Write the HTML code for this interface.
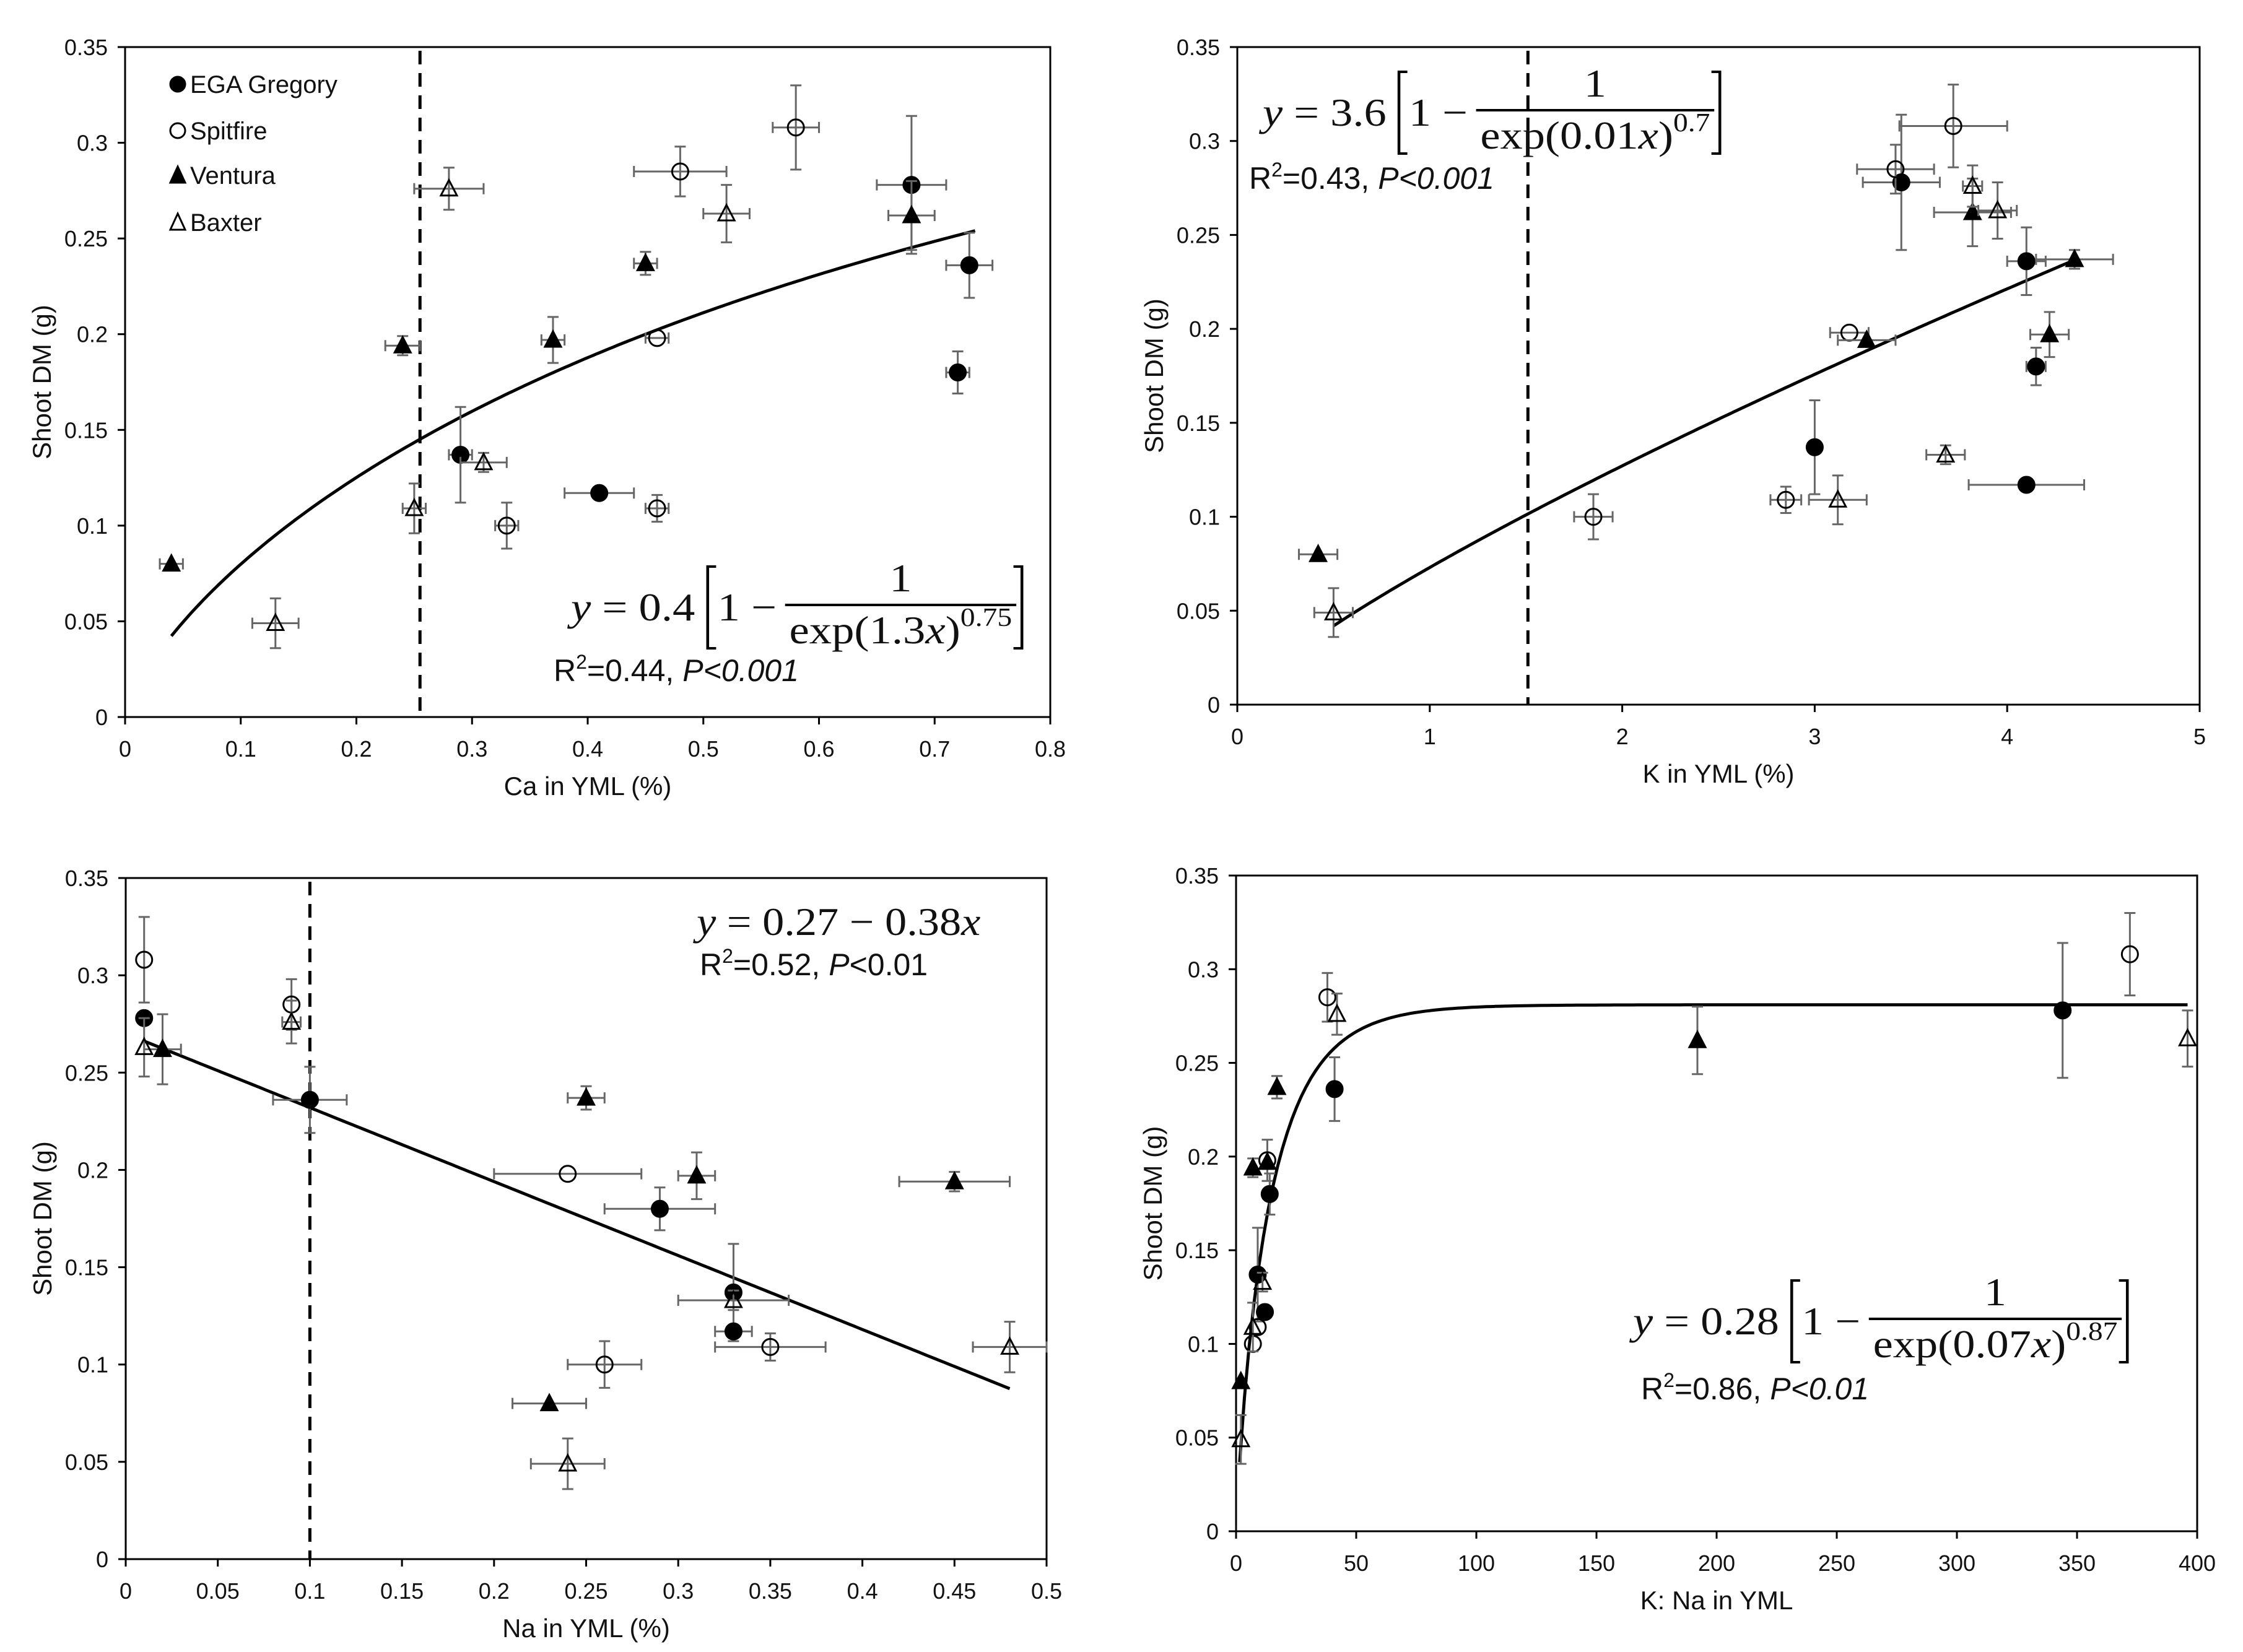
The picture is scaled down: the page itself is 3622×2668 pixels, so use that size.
<!DOCTYPE html>
<html><head><meta charset="utf-8"><style>
html,body{margin:0;padding:0;background:#fff;}
svg{display:block;}
text{font-family:"Liberation Sans",sans-serif;fill:#111;}
.eq{font-family:"Liberation Serif",serif;}
</style></head><body>
<svg id="fig" width="3622" height="2668" viewBox="0 0 3622 2668" xmlns="http://www.w3.org/2000/svg"></svg>
<script>
// ---- data: [x, y, xerr, yerr] ----
const caGregory=[[0.29,0.137,0.01,0.025],[0.41,0.117,0.03,0],[0.68,0.278,0.03,0.036],[0.73,0.236,0.02,0.017],[0.72,0.180,0.01,0.011]];
const caSpitfire=[[0.58,0.308,0.02,0.022],[0.48,0.285,0.04,0.013],[0.46,0.198,0.01,0],[0.46,0.109,0.01,0.007],[0.33,0.100,0.01,0.012]];
const caVentura=[[0.04,0.080,0.01,0],[0.24,0.194,0.015,0.005],[0.37,0.197,0.01,0.012],[0.45,0.237,0.01,0.006],[0.68,0.262,0.02,0.018]];
const caBaxter=[[0.13,0.049,0.02,0.013],[0.28,0.276,0.03,0.011],[0.52,0.263,0.02,0.015],[0.31,0.133,0.02,0.005],[0.25,0.109,0.01,0.013]];
const kGregory=[[3.45,0.278,0.2,0.036],[4.1,0.236,0.1,0.018],[4.15,0.180,0.05,0.01],[3.0,0.137,0,0.025],[4.1,0.117,0.3,0]];
const kSpitfire=[[3.72,0.308,0.28,0.022],[3.42,0.285,0.2,0.013],[3.18,0.198,0.1,0],[2.85,0.109,0.08,0.007],[1.85,0.100,0.1,0.012]];
const kVentura=[[0.42,0.080,0.1,0],[3.27,0.194,0.15,0],[4.22,0.197,0.1,0.012],[4.35,0.237,0.2,0.005],[3.82,0.262,0.2,0.018]];
const kBaxter=[[0.5,0.049,0.1,0.013],[3.82,0.276,0.05,0.011],[3.95,0.263,0.1,0.015],[3.68,0.133,0.1,0.005],[3.12,0.109,0.15,0.013]];
const naGregory=[[0.01,0.278,0,0],[0.10,0.236,0.02,0.017],[0.29,0.180,0.03,0.011],[0.33,0.137,0,0.025],[0.33,0.117,0.01,0]];
const naSpitfire=[[0.01,0.308,0,0.022],[0.09,0.285,0,0.013],[0.24,0.198,0.04,0],[0.26,0.100,0.02,0.012],[0.35,0.109,0.03,0.007]];
const naVentura=[[0.23,0.080,0.02,0],[0.45,0.194,0.03,0.005],[0.31,0.197,0.01,0.012],[0.25,0.237,0.01,0.006],[0.02,0.262,0.01,0.018]];
const naBaxter=[[0.24,0.049,0.02,0.013],[0.09,0.276,0.005,0.011],[0.01,0.263,0,0.015],[0.33,0.133,0.03,0.005],[0.48,0.109,0.02,0.013]];
const rGregory=[[344,0.278,0,0.036],[41,0.236,0,0.017],[14,0.180,0,0.011],[9,0.137,0,0.025],[12,0.117,0,0]];
const rSpitfire=[[372,0.308,0,0.022],[38,0.285,0,0.013],[13,0.198,0,0.011],[9,0.109,0,0],[7,0.100,0,0]];
const rVentura=[[2,0.080,0,0],[7,0.194,0,0.005],[192,0.262,0,0.018],[17,0.237,0,0.006],[13,0.197,0,0]];
const rBaxter=[[2,0.049,0,0.013],[42,0.276,0,0.011],[396,0.263,0,0.015],[11,0.133,0,0.005],[7,0.109,0,0.013]];
const yTicks=[0,0.05,0.1,0.15,0.2,0.25,0.3,0.35];
const yTickLabels=["0","0.05","0.1","0.15","0.2","0.25","0.3","0.35"];
const caTicks=[0,0.1,0.2,0.3,0.4,0.5,0.6,0.7,0.8];
const caTickLabels=["0","0.1","0.2","0.3","0.4","0.5","0.6","0.7","0.8"];
const kTicks=[0,1,2,3,4,5];
const kTickLabels=["0","1","2","3","4","5"];
const naTicks=[0,0.05,0.1,0.15,0.2,0.25,0.3,0.35,0.4,0.45,0.5];
const naTickLabels=["0","0.05","0.1","0.15","0.2","0.25","0.3","0.35","0.4","0.45","0.5"];
const rTicks=[0,50,100,150,200,250,300,350,400];
const rTickLabels=["0","50","100","150","200","250","300","350","400"];
const caThreshold=[0.255];
const kThreshold=[1.51];
const naThreshold=[0.1];

const NS="http://www.w3.org/2000/svg";
const svg=document.getElementById('fig');
function mk(tag,attrs,parent,txt){const e=document.createElementNS(NS,tag);for(const k in attrs)e.setAttribute(k,attrs[k]);if(txt!==undefined)e.textContent=txt;(parent||svg).appendChild(e);return e;}

function panel(cfg){
  const g=mk('g',{});
  
  
  const sx=v=>cfg.x0+(v-cfg.xmin)/(cfg.xmax-cfg.xmin)*(cfg.x1-cfg.x0);
  const sy=v=>cfg.yB-(v/0.35)*(cfg.yB-cfg.yT);
  const fr=mk('rect',{x:cfg.x0,y:cfg.yT,width:cfg.x1-cfg.x0,height:cfg.yB-cfg.yT,fill:'none',stroke:'#000','stroke-width':3},g);
  
  
  yTicks.forEach((t,i)=>{
    mk('line',{x1:cfg.x0-12,x2:cfg.x0,y1:sy(t),y2:sy(t),stroke:'#000','stroke-width':3},g);
    const tl=mk('text',{x:cfg.x0-28,y:sy(t)+13,'text-anchor':'end','font-size':36},g,yTickLabels[i]);
    
    
  });
  cfg.xt.forEach((t,i)=>{
    mk('line',{x1:sx(t),x2:sx(t),y1:cfg.yB,y2:cfg.yB+12,stroke:'#000','stroke-width':3},g);
    const tl=mk('text',{x:sx(t),y:cfg.yB+64,'text-anchor':'middle','font-size':36},g,cfg.xl[i]);
    
    
  });
  const yt=mk('text',{x:0,y:0,'text-anchor':'middle','font-size':42,transform:`translate(${cfg.x0-120},${(cfg.yB+cfg.yT)/2}) rotate(-90)`},g,'Shoot DM (g)');
  
  
  const xt=mk('text',{x:(cfg.x0+cfg.x1)/2,y:cfg.yB+126,'text-anchor':'middle','font-size':42},g,cfg.xtitle);
  
  
  if(cfg.thr){
    const dl=mk('line',{x1:sx(cfg.thr[0]),x2:sx(cfg.thr[0]),y1:cfg.yT+6,y2:cfg.yB,stroke:'#000','stroke-width':5,'stroke-dasharray':'22 14'},g);
    
    
  }
  let d='';const n=200;
  for(let i=0;i<=n;i++){const x=cfg.fx0+(cfg.fx1-cfg.fx0)*i/n;d+=(i?'L':'M')+sx(x).toFixed(1)+','+sy(cfg.f(x)).toFixed(1);}
  const fc=mk('path',{d:d,fill:'none',stroke:'#000','stroke-width':5},g);
  
  
  const series=[[cfg.s[0],'circle',true,'egagregory'],[cfg.s[1],'circle',false,'spitfire'],[cfg.s[2],'tri',true,'ventura'],[cfg.s[3],'tri',false,'baxter']];
  series.forEach(([arr,shape,filled,nm])=>{
    arr.forEach(p=>{
      const px=sx(p[0]),py=sy(p[1]);
      const eg=mk('g',{stroke:'#666','stroke-width':3},g);
      
      
      if(p[2]>0){const a=sx(p[0]-p[2]),b=sx(p[0]+p[2]);mk('line',{x1:a,x2:b,y1:py,y2:py},eg);mk('line',{x1:a,x2:a,y1:py-9,y2:py+9},eg);mk('line',{x1:b,x2:b,y1:py-9,y2:py+9},eg);}
      if(p[3]>0){const a=sy(p[1]-p[3]),b=sy(p[1]+p[3]);mk('line',{x1:px,x2:px,y1:a,y2:b},eg);mk('line',{x1:px-9,x2:px+9,y1:a,y2:a},eg);mk('line',{x1:px-9,x2:px+9,y1:b,y2:b},eg);}
      let m;
      if(shape==='circle')m=mk('circle',{cx:px,cy:py,r:13,fill:filled?'#000':'none',stroke:'#000','stroke-width':3},g);
      else m=mk('polygon',{points:`${px},${py-14} ${px-13},${py+11} ${px+13},${py+11}`,fill:filled?'#000':'none',stroke:'#000','stroke-width':3},g);
      
      
    });
  });
}

panel({name:'panel-ca',x0:202,x1:1696,yB:1158,yT:76,xmin:0,xmax:0.8,xt:caTicks,xl:caTickLabels,xtitle:'Ca in YML (%)',thr:caThreshold,
  fx0:0.04,fx1:0.735,f:x=>0.41*(1-Math.exp(-Math.pow(1.3*x,0.75))),s:[caGregory,caSpitfire,caVentura,caBaxter]});
panel({name:'panel-k',x0:1998,x1:3552,yB:1138,yT:76,xmin:0,xmax:5,xt:kTicks,xl:kTickLabels,xtitle:'K in YML (%)',thr:kThreshold,
  fx0:0.5,fx1:4.35,f:x=>0.073*Math.pow(x,0.8),s:[kGregory,kSpitfire,kVentura,kBaxter]});
panel({name:'panel-na',x0:203,x1:1690,yB:2518,yT:1418,xmin:0,xmax:0.5,xt:naTicks,xl:naTickLabels,xtitle:'Na in YML (%)',thr:naThreshold,
  fx0:0.01,fx1:0.48,f:x=>0.27-0.38*x,s:[naGregory,naSpitfire,naVentura,naBaxter]});
panel({name:'panel-kna',x0:1996,x1:3548,yB:2473,yT:1414,xmin:0,xmax:400,xt:rTicks,xl:rTickLabels,xtitle:'K: Na in YML',thr:null,
  fx0:1.5,fx1:396,f:x=>0.281*(1-Math.exp(-Math.pow(0.07*x,0.87))),s:[rGregory,rSpitfire,rVentura,rBaxter]});

const legend=[['EGA Gregory','circle',true,150],['Spitfire','circle',false,225],['Ventura','tri',true,297],['Baxter','tri',false,373]];
legend.forEach(([lab,sh,f,y])=>{
  const g=mk('g',{});
  
  
  if(sh==='circle')mk('circle',{cx:287,cy:y-14,r:12,fill:f?'#000':'none',stroke:'#000','stroke-width':3},g);
  else mk('polygon',{points:`287,${y-28} 275,${y-2} 299,${y-2}`,fill:f?'#000':'none',stroke:'#000','stroke-width':3},g);
  mk('text',{x:307,y:y,'font-size':40},g,lab);
});

function bracket(g,x,top,bot,open){const s=open?12:-12;mk('path',{d:`M${x+s},${top} L${x},${top} L${x},${bot} L${x+s},${bot}`,fill:'none',stroke:'#000','stroke-width':4},g);}
function fitWidth(g,sx,target){const bb=g.getBBox();const k=target/bb.width;g.setAttribute('transform',`translate(${sx},0) scale(${k},1) translate(${-sx},0)`);}
function fracEq(name,sx,ly,coef,den,sup,target){
  const g=mk('g',{});
  
  
  const t1=mk('text',{x:sx,y:ly+25,'font-size':64,class:'eq'},g);
  mk('tspan',{'font-style':'italic'},t1,'y');
  mk('tspan',{},t1,' = '+coef);
  let x=sx+t1.getComputedTextLength()+18;
  bracket(g,x,ly-62,ly+70,true);
  x+=14;
  const t2=mk('text',{x:x,y:ly+25,'font-size':64,class:'eq'},g,'1 − ');
  x+=t2.getComputedTextLength()+12;
  const t3=mk('text',{x:x+6,y:ly+62,'font-size':64,class:'eq'},g);
  mk('tspan',{},t3,den);
  mk('tspan',{'font-style':'italic'},t3,'x');
  mk('tspan',{},t3,')');
  mk('tspan',{'font-size':42,dy:-28},t3,sup);
  const w=t3.getComputedTextLength()+12;
  mk('line',{x1:x,x2:x+w,y1:ly,y2:ly,stroke:'#000','stroke-width':4},g);
  mk('text',{x:x+w/2,y:ly-22,'font-size':64,'text-anchor':'middle',class:'eq'},g,'1');
  x+=w+8;
  bracket(g,x,ly-62,ly+70,false);
  fitWidth(g,sx,target);
}
function r2(name,x,y,a,p){
  const t=mk('text',{x:x,y:y,'font-size':50});
  
  
  mk('tspan',{},t,'R');
  mk('tspan',{'font-size':32,dy:-20},t,'2');
  mk('tspan',{dy:20},t,'='+a+', ');
  mk('tspan',{'font-style':p[1]?'italic':'normal'},t,'P');
  mk('tspan',{'font-style':p[2]?'italic':'normal'},t,'<'+p[0]);
}
fracEq('equation-ca',922,977,'0.4','exp(1.3','0.75',735);
r2('r2-ca',894,1100,'0.44',['0.001',true,true]);
fracEq('equation-k',2039,178,'3.6','exp(0.01','0.7',745);
r2('r2-k',2017,305,'0.43',['0.001',true,true]);
const e3g=mk('g',{});


const e3=mk('text',{x:1125,y:1510,'font-size':64,class:'eq'},e3g);
mk('tspan',{'font-style':'italic'},e3,'y');
mk('tspan',{},e3,' = 0.27 − 0.38');
mk('tspan',{'font-style':'italic'},e3,'x');
fitWidth(e3g,1125,465);
r2('r2-na',1130,1575,'0.52',['0.01',true,false]);
fracEq('equation-kna',2637,2130,'0.28','exp(0.07','0.87',805);
r2('r2-kna',2650,2260,'0.86',['0.01',true,true]);
</script>
</body></html>
